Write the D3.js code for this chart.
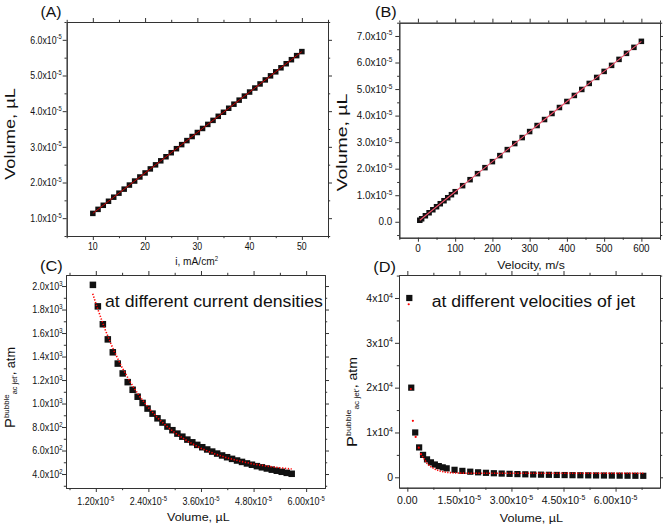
<!DOCTYPE html>
<html><head><meta charset="utf-8">
<script src="https://cdn.jsdelivr.net/npm/d3@7"></script>
<style>body{margin:0;background:#fff}svg{display:block}</style>
</head><body><svg id="c" width="663" height="528"></svg>
<script>
// ---------------- DATA ----------------
// (A) current density (mA/cm2) vs bubble volume (x10^-5 µL)
const aCurrent = [10,11,12,13,14,15,16,17,18,19,20,21,22,23,24,25,26,27,28,29,30,31,32,33,34,35,36,37,38,39,40,41,42,43,44,45,46,47,48,49,50];
const aVolume = [1.134,1.247,1.361,1.474,1.588,1.701,1.814,1.928,2.041,2.155,2.268,2.381,2.495,2.608,2.722,2.835,2.948,3.062,3.175,3.289,3.402,3.515,3.629,3.742,3.856,3.969,4.082,4.196,4.309,4.423,4.536,4.649,4.763,4.876,4.990,5.103,5.216,5.330,5.443,5.557,5.670];
// (B) jet velocity (m/s) vs volume (x10^-5 µL)
const bVelocity = [5,10,20,30,40,50,60,70,80,90,100,120,140,160,180,200,220,240,260,280,300,320,340,360,380,400,420,440,460,480,500,520,540,560,580,600];
const bVolume = [0.057,0.113,0.227,0.340,0.453,0.567,0.680,0.793,0.906,1.020,1.133,1.360,1.586,1.813,2.039,2.266,2.493,2.719,2.946,3.172,3.399,3.626,3.852,4.079,4.305,4.532,4.759,4.985,5.212,5.438,5.665,5.892,6.118,6.345,6.571,6.798];
// (C) pressure (atm) at the volumes of (A)
const cPressure = [2010,1827,1675,1546,1436,1340,1256,1182,1117,1058,1005,957,914,874,838,804,773,744,718,693,670,648,628,609,591,574,558,543,529,515,503,490,479,467,457,447,437,428,419,410,402];
const cFitVolume = [1.13,1.2,1.4,1.6,1.8,2.0,2.2,2.4,2.6,2.8,3.0,3.3,3.6,3.9,4.2,4.5,4.8,5.1,5.4,5.67];
const cFitPressure = [1935,1853,1641,1460,1306,1174,1061,965,882,812,752,678,619,573,537,508,485,467,453,443];
// (D) pressure (atm) at the volumes of (B)
const dPressure = [40000,20000,10000,6667,5000,4000,3333,2857,2500,2222,2000,1667,1429,1250,1111,1000,909,833,769,714,667,625,588,556,526,500,476,455,435,417,400,385,370,357,345,333];
const dFitDotVolume = [0.04,0.10,0.16,0.24,0.33,0.39];
const dFitDotPressure = [38600,19700,12600,9000,6600,5200];
const dFitTailVolume = [0.39,0.46,0.56,0.65,0.80,0.94,1.13,1.42,1.8,2.5,3.5,5.0,6.8];
const dFitTailPressure = [5200,4400,3200,2500,1800,1400,1100,950,900,890,890,890,890];
// ticks
const aXMajor = [10,20,30,40,50], aXMinor = [5,15,25,35,45,55];
const aYMajor = [1,2,3,4,5,6], aYMinor = [0.5,1.5,2.5,3.5,4.5,5.5,6.5];
const bXMajor = [0,100,200,300,400,500,600], bXMinor = [-50,50,150,250,350,450,550,650];
const bYMajor = [0,1,2,3,4,5,6,7], bYMinor = [-0.5,0.5,1.5,2.5,3.5,4.5,5.5,6.5,7.5];
const cXMajor = [1.2,2.4,3.6,4.8,6.0], cXMinor = [0.6,1.8,3.0,4.2,5.4];
const cYMajor = [400,600,800,1000,1200,1400,1600,1800,2000], cYMinor = [300,500,700,900,1100,1300,1500,1700,1900];
const dXMajor = [0,1.5,3.0,4.5,6.0], dXMinor = [0.75,2.25,3.75,5.25,6.75];
const dYMajor = [0,10000,20000,30000,40000], dYMinor = [5000,15000,25000,35000,45000];
// texts
const panelLetters = ['(A)','(B)','(C)','(D)'];
const annotations = ['at different current densities','at different velocities of jet'];

// ---------------- DRAW ----------------
const svg = d3.select('#c');
svg.append('rect').attr('width',663).attr('height',528).attr('fill','#fff');
const FONT = "'Liberation Sans', Arial, Helvetica, sans-serif";
const AX = '#333';

function txt(parent, o) {
  const g = parent.append('g').attr('transform', `translate(${o.x},${o.y})` + (o.rot ? ` rotate(${o.rot})` : ''));
  const inner = g.append('g');
  const t = inner.append('text').attr('text-anchor', o.anchor || 'middle')
    .attr('font-family', FONT).attr('font-size', o.size).attr('fill', o.fill || '#111');
  o.parts.forEach(p => {
    const s = t.append('tspan').text(p.t);
    if (p.size) s.attr('font-size', p.size);
    if (p.dy) s.attr('dy', p.dy);
  });
  let sx = o.sx || 1;
  if (o.width) sx = o.width / t.node().getBBox().width;
  inner.attr('transform', `scale(${sx},1)`);
  return g;
}
const sci = (m, e, ss) => [{t: m + 'x10'}, {t: e, size: ss || 6.8, dy: -4.2}];

const mk = {bottom: d3.axisBottom, top: d3.axisTop, left: d3.axisLeft, right: d3.axisRight};

function panel(p) {
  const g = svg.append('g');
  const x = d3.scaleLinear().domain(p.xDomain).range([p.left, p.right]);
  const y = d3.scaleLinear().domain(p.yDomain).range([p.bottom, p.top]);
  ['bottom','top','left','right'].forEach(side => {
    const isX = side === 'bottom' || side === 'top';
    const sc = isX ? x : y;
    const pos = p[side];
    const tr = isX ? `translate(0,${pos})` : `translate(${pos},0)`;
    g.append('g').attr('transform', tr)
      .call(mk[side](sc).tickValues(isX ? p.xMinor : p.yMinor).tickSize(2.2).tickSizeOuter(0).tickFormat(''));
    g.append('g').attr('transform', tr)
      .call(mk[side](sc).tickValues(isX ? p.xMajor : p.yMajor).tickSize(4).tickSizeOuter(0).tickFormat(''));
  });
  g.selectAll('.domain, .tick line').attr('stroke', AX).attr('stroke-width', 1);
  p.xMajor.forEach(v => txt(g, {x: x(v), y: p.bottom + p.xLabDy, anchor: 'middle', size: p.ts, sx: p.tsx, parts: p.xFmt(v)}));
  p.yMajor.forEach(v => txt(g, {x: p.left - p.yGap, y: y(v) + p.ts * 0.36, anchor: 'end', size: p.ts, sx: p.tsx, parts: p.yFmt(v)}));
  return {g, x, y};
}

function squares(g, x, y, xs, ys, s) {
  g.append('g').selectAll('rect').data(xs).join('rect')
    .attr('x', (d, i) => x(d) - s / 2).attr('y', (d, i) => y(ys[i]) - s / 2)
    .attr('width', s).attr('height', s).attr('fill', '#111');
}
function line(g, x, y, xs, ys, attrs) {
  const l = d3.line().x(d => x(d[0])).y(d => y(d[1]));
  const path = g.append('path').attr('d', l(xs.map((d, i) => [d, ys[i]]))).attr('fill', 'none');
  Object.entries(attrs).forEach(([k, v]) => path.attr(k, v));
}

// Panel A
const A = panel({left: 66.7, right: 328, top: 22, bottom: 236, xDomain: [5, 55], yDomain: [0.5, 6.5],
  xMajor: aXMajor, xMinor: aXMinor, yMajor: aYMajor, yMinor: aYMinor, ts: 10.3, tsx: 0.85, xLabDy: 14, yGap: 5,
  xFmt: v => [{t: String(v)}], yFmt: v => sci(v.toFixed(1), '-5')});
squares(A.g, A.x, A.y, aCurrent, aVolume, 5.5);
line(A.g, A.x, A.y, aCurrent, aVolume, {stroke: '#c80000', 'stroke-width': 1});

// Panel B
const B = panel({left: 399.3, right: 660, top: 22.7, bottom: 237.7, xDomain: [-50, 650], yDomain: [-0.6, 7.5],
  xMajor: bXMajor, xMinor: bXMinor, yMajor: bYMajor, yMinor: bYMinor, ts: 10.3, tsx: 0.96, xLabDy: 14.6, yGap: 7,
  xFmt: v => [{t: String(v)}], yFmt: v => v === 0 ? [{t: '0.0'}] : sci(v.toFixed(1), '-5')});
squares(B.g, B.x, B.y, bVelocity, bVolume, 5.5);
line(B.g, B.x, B.y, bVelocity, bVolume, {stroke: '#f0506a', 'stroke-width': 1.1});

// Panel C
const C = panel({left: 66, right: 325, top: 275, bottom: 488, xDomain: [0.52, 6.43], yDomain: [281, 2094],
  xMajor: cXMajor, xMinor: cXMinor, yMajor: cYMajor, yMinor: cYMinor, ts: 10.3, tsx: 0.87, xLabDy: 17, yGap: 3.5,
  xFmt: v => sci(v.toFixed(2), '-5'),
  yFmt: v => v >= 1000 ? sci((v / 1000).toFixed(1), '3') : sci((v / 100).toFixed(1), '2')});
squares(C.g, C.x, C.y, aVolume, cPressure, 6.5);
line(C.g, C.x, C.y, cFitVolume, cFitPressure, {stroke: '#ff0000', 'stroke-width': 1.6, 'stroke-dasharray': '1.3,1.6'});

// Panel D
const D = panel({left: 399, right: 660, top: 275, bottom: 487.7, xDomain: [-0.24, 7.28], yDomain: [-2320, 45130],
  xMajor: dXMajor, xMinor: dXMinor, yMajor: dYMajor, yMinor: dYMinor, ts: 10.5, tsx: 1.0, xLabDy: 16.5, yGap: 6,
  xFmt: v => v === 0 ? [{t: '0.00'}] : sci(v.toFixed(2), '-5', 7),
  yFmt: v => v === 0 ? [{t: '0'}] : sci(String(v / 10000), '4', 7)});
squares(D.g, D.x, D.y, bVolume, dPressure, 6.2);
D.g.append('g').selectAll('circle').data(dFitDotVolume).join('circle')
  .attr('cx', d => D.x(d)).attr('cy', (d, i) => D.y(dFitDotPressure[i])).attr('r', 1.1).attr('fill', '#ff0000');
line(D.g, D.x, D.y, dFitTailVolume, dFitTailPressure, {stroke: '#ff0000', 'stroke-width': 1.6, 'stroke-dasharray': '1.3,1.3'});

// Panel letters
txt(svg, {x: 40.5, y: 16.5, anchor: 'start', size: 14, width: 21, parts: [{t: panelLetters[0]}]});
txt(svg, {x: 375, y: 16.5, anchor: 'start', size: 14, width: 21.7, parts: [{t: panelLetters[1]}]});
txt(svg, {x: 40, y: 270.7, anchor: 'start', size: 14, width: 22.7, parts: [{t: panelLetters[2]}]});
txt(svg, {x: 373.3, y: 271.5, anchor: 'start', size: 14, width: 22.7, parts: [{t: panelLetters[3]}]});

// x-axis titles
txt(svg, {x: 196.6, y: 265, size: 11, width: 43.3, parts: [{t: 'i, mA/cm'}, {t: '2', size: 6.5, dy: -4}]});
txt(svg, {x: 531, y: 269, size: 11.5, width: 68, parts: [{t: 'Velocity, m/s'}]});
txt(svg, {x: 198.3, y: 520.7, size: 11.5, width: 63.3, parts: [{t: 'Volume, \u00b5L'}]});
txt(svg, {x: 531.3, y: 521.5, size: 11.5, width: 64, parts: [{t: 'Volume, \u00b5L'}]});

// y-axis titles
txt(svg, {x: 14.5, y: 134, rot: -90, size: 14, width: 92, parts: [{t: 'Volume, \u00b5L'}]});
txt(svg, {x: 347, y: 142.5, rot: -90, size: 14, width: 98, parts: [{t: 'Volume, \u00b5L'}]});
const pParts = [{t: 'P', size: 14}, {t: 'bubble', size: 7.5, dy: -6}, {t: 'ac jet\'', size: 7, dy: 7.5}, {t: ', atm', size: 12, dy: -1.5}];
txt(svg, {x: 15, y: 387.5, rot: -90, size: 12, width: 81, parts: pParts});
txt(svg, {x: 357, y: 402, rot: -90, size: 12, width: 90, parts: pParts});

// annotations
txt(svg, {x: 105, y: 306.5, anchor: 'start', size: 16, width: 218, parts: [{t: annotations[0]}]});
txt(svg, {x: 431.7, y: 306.5, anchor: 'start', size: 16, width: 204.3, parts: [{t: annotations[1]}]});
</script></body></html>
